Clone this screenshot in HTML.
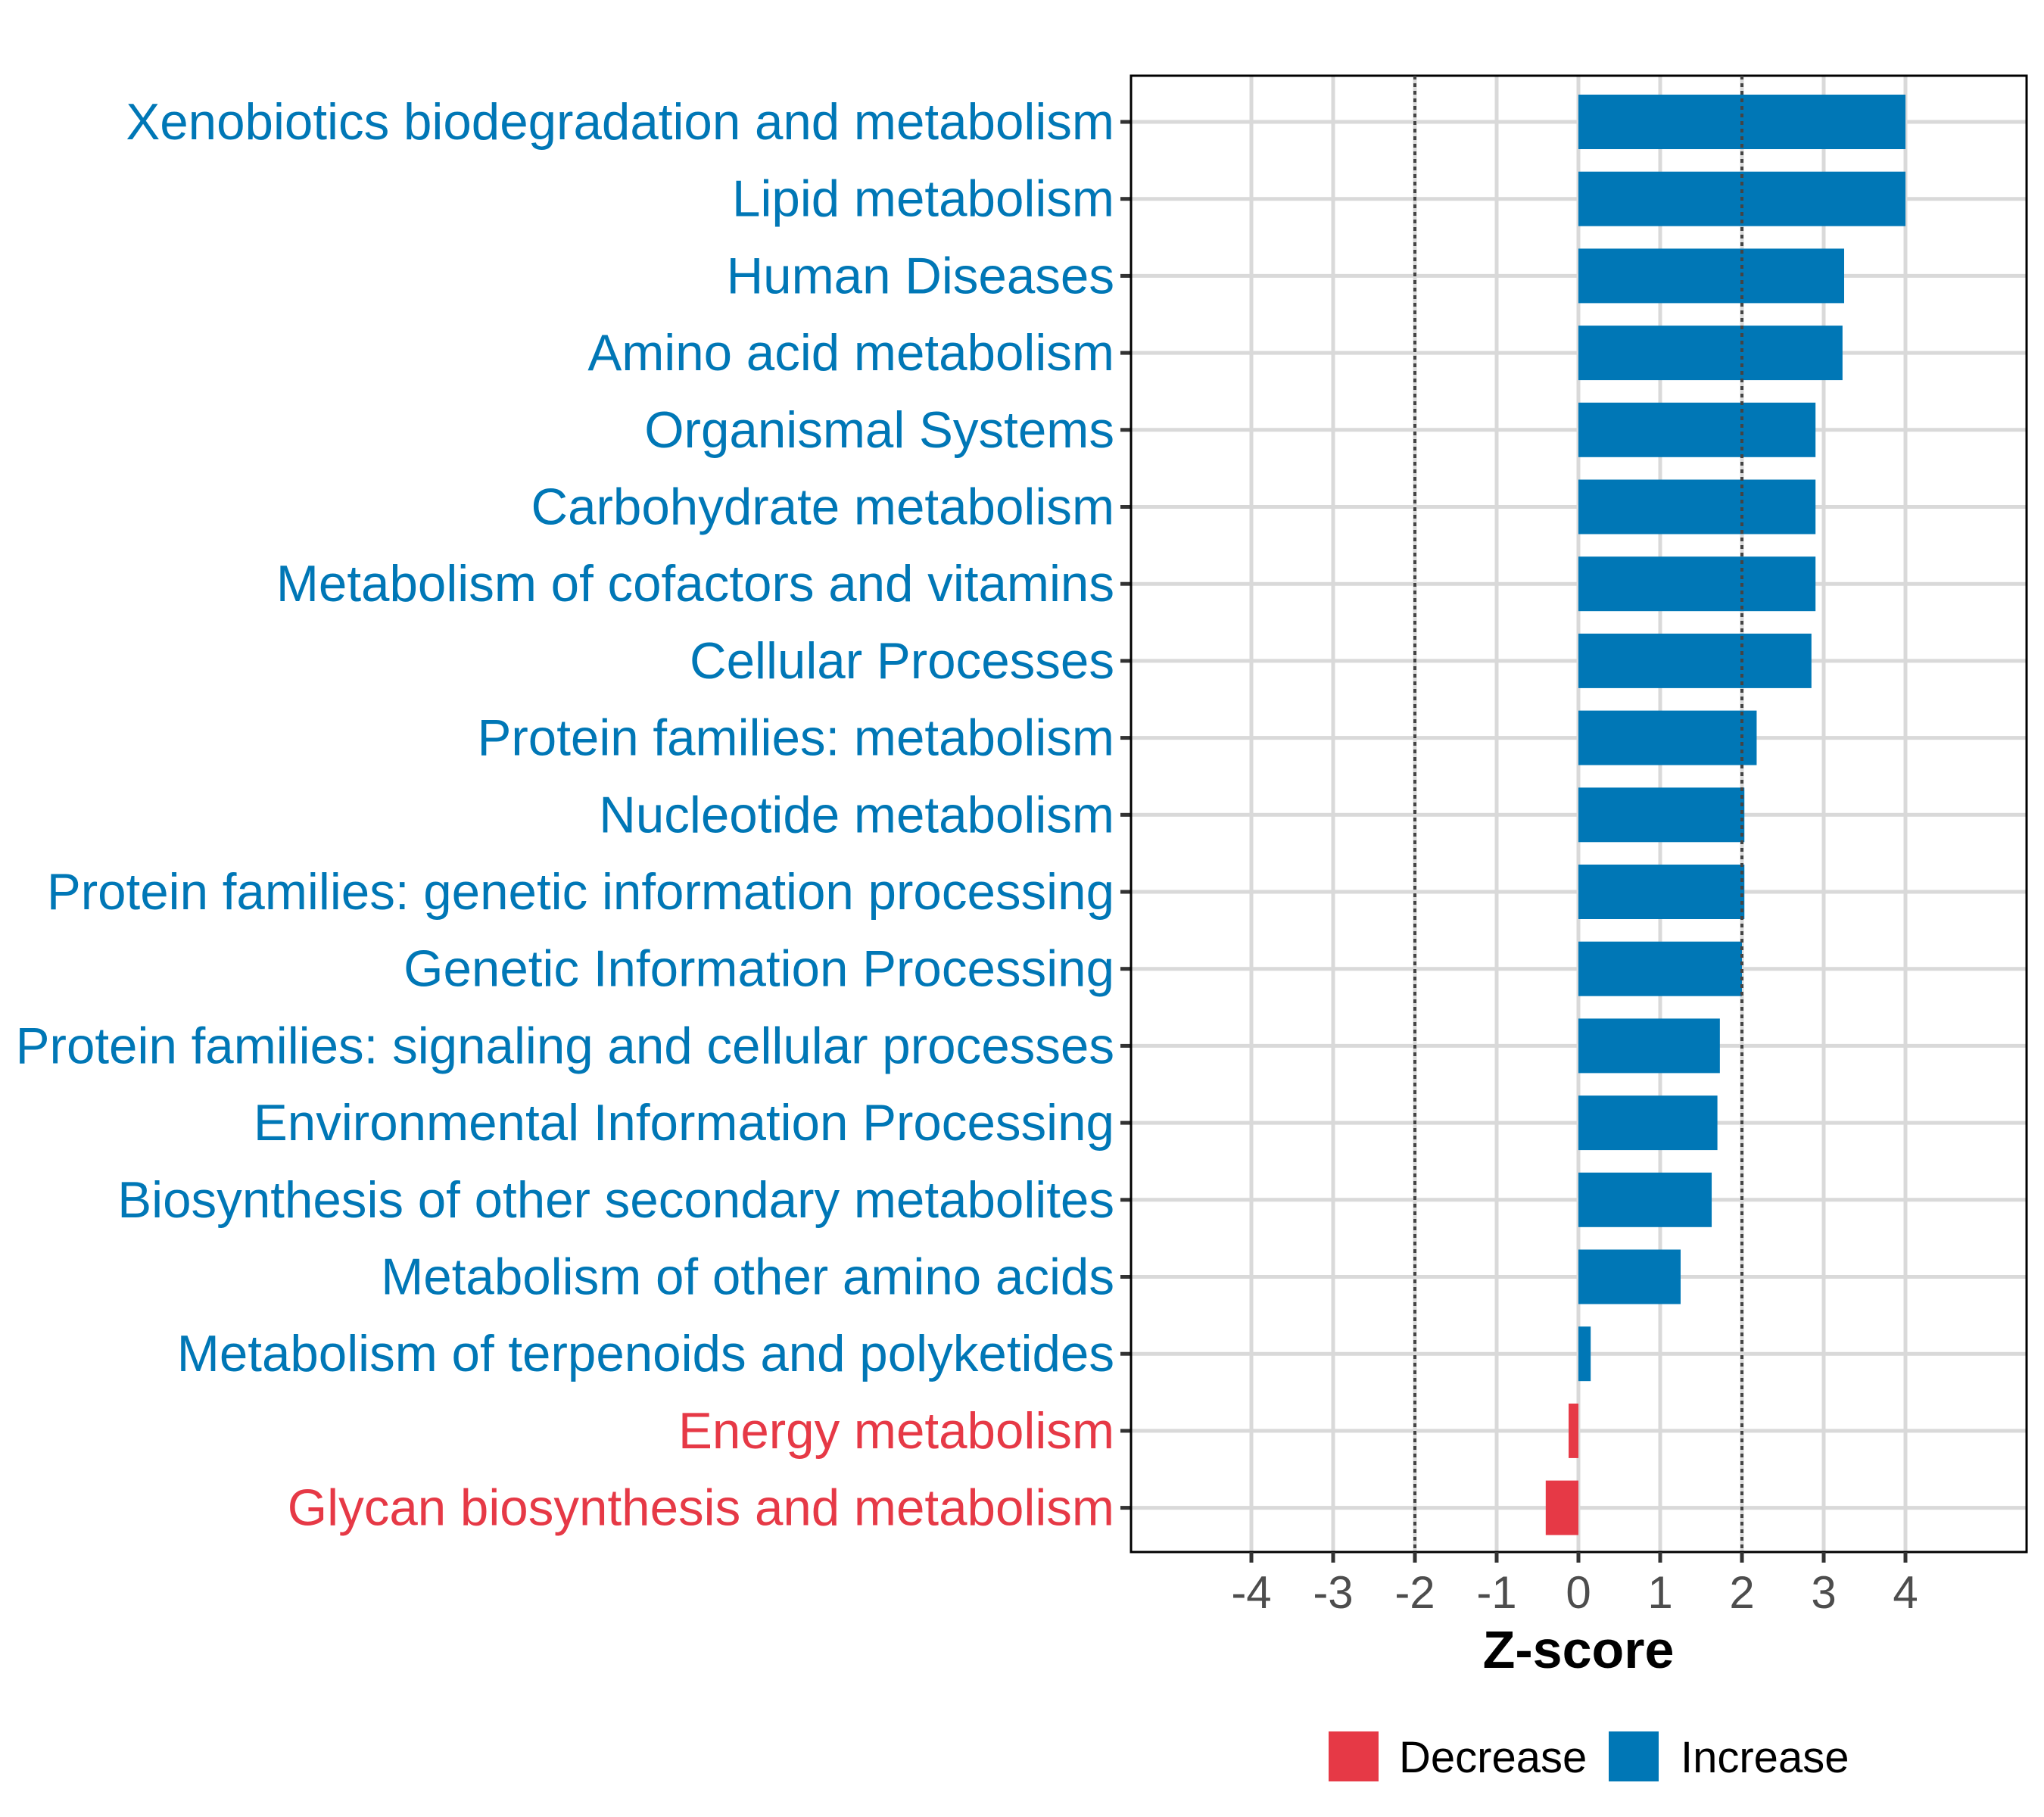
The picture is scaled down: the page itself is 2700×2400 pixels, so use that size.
<!DOCTYPE html>
<html><head><meta charset="utf-8"><style>html,body{margin:0;padding:0;background:#fff}svg{display:block}text{font-family:"Liberation Sans",sans-serif}</style></head>
<body>
<svg id="chart" width="2700" height="2400" viewBox="0 0 2700 2400" xmlns="http://www.w3.org/2000/svg">
<rect x="0" y="0" width="2700" height="2400" fill="#fff"/>
<g id="grid"></g><g id="bars"></g><g id="labels"></g><g id="xaxis"></g>
<text x="2085" y="2203" text-anchor="middle" font-size="70" font-weight="bold" fill="#000">Z-score</text>
<g>
<rect x="1755" y="2287" width="66" height="66" fill="#E63946"/>
<text x="1848" y="2341" font-size="58" fill="#000">Decrease</text>
<rect x="2125" y="2287" width="66" height="66" fill="#0077B6"/>
<text x="2220" y="2341" font-size="58" fill="#000">Increase</text>
</g>
</svg>
<script>
const categories = ["Xenobiotics biodegradation and metabolism","Lipid metabolism","Human Diseases","Amino acid metabolism","Organismal Systems","Carbohydrate metabolism","Metabolism of cofactors and vitamins","Cellular Processes","Protein families: metabolism","Nucleotide metabolism","Protein families: genetic information processing","Genetic Information Processing","Protein families: signaling and cellular processes","Environmental Information Processing","Biosynthesis of other secondary metabolites","Metabolism of other amino acids","Metabolism of terpenoids and polyketides","Energy metabolism","Glycan biosynthesis and metabolism"];
const zscores = [4.0,4.0,3.25,3.23,2.9,2.9,2.9,2.85,2.18,2.03,2.03,2.0,1.73,1.7,1.63,1.25,0.15,-0.12,-0.4];
const xTicks = [-4,-3,-2,-1,0,1,2,3,4];
const thresholds = [-2,2];
const NS="http://www.w3.org/2000/svg";
const panel={l:1494,r:2677,t:100,b:2050};
const x0=2085, unit=108;
const xs=v=>x0+v*unit;
const rowTop=161, rowStep=101.7;
const ys=i=>rowTop+i*rowStep;
const barH=72;
function mk(tag,attrs,parent){const e=document.createElementNS(NS,tag);for(const k in attrs)e.setAttribute(k,attrs[k]);parent.appendChild(e);return e;}
const grid=document.getElementById('grid'),bars=document.getElementById('bars'),labels=document.getElementById('labels'),xaxis=document.getElementById('xaxis');
xTicks.forEach(t=>{const l=mk('line',{x1:xs(t),x2:xs(t),y1:panel.t,y2:panel.b,stroke:'#d9d9d9','stroke-width':5},grid);

});
categories.forEach((c,i)=>{const l=mk('line',{x1:panel.l,x2:panel.r,y1:ys(i),y2:ys(i),stroke:'#d9d9d9','stroke-width':5},grid);

});
categories.forEach((c,i)=>{const v=zscores[i];const col=v<0?'#E63946':'#0077B6';
const r=mk('rect',{x:Math.min(xs(0),xs(v)),y:ys(i)-barH/2,width:Math.abs(xs(v)-xs(0)),height:barH,fill:col},bars);


const t=mk('text',{x:1472,y:ys(i)+23,'text-anchor':'end','font-size':67.3,fill:col},labels);t.textContent=c;


const tk=mk('line',{x1:1480,x2:panel.l,y1:ys(i),y2:ys(i),stroke:'#333','stroke-width':5},labels);

});
thresholds.forEach(t=>{const l=mk('line',{x1:xs(t),x2:xs(t),y1:panel.t,y2:panel.b,stroke:'#444','stroke-width':4,'stroke-dasharray':'5 5'},grid.parentNode);

});
const fr=mk('rect',{x:panel.l,y:panel.t,width:panel.r-panel.l,height:panel.b-panel.t,fill:'none',stroke:'#000','stroke-width':3},xaxis);


xTicks.forEach(t=>{const tk=mk('line',{x1:xs(t),x2:xs(t),y1:panel.b,y2:panel.b+14,stroke:'#333','stroke-width':5},xaxis);


const tl=mk('text',{x:xs(t),y:2124,'text-anchor':'middle','font-size':60,fill:'#4d4d4d'},xaxis);tl.textContent=t;

});
</script>
</body></html>
